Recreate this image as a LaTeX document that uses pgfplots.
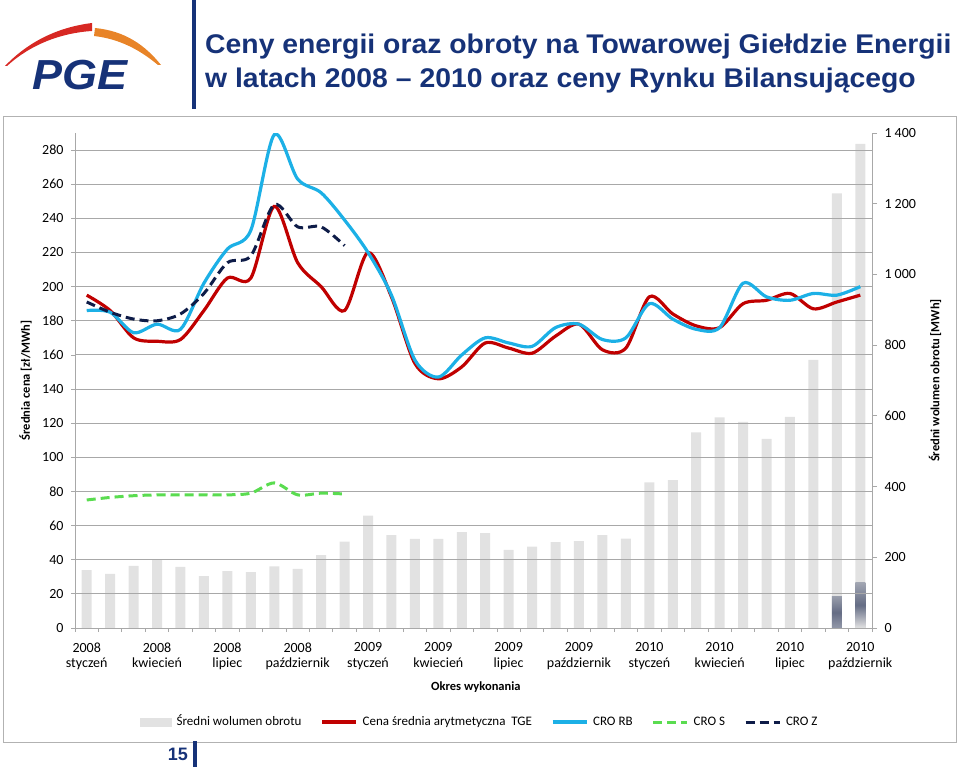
\documentclass[border=0pt]{standalone}
\usepackage{graphicx}
\usepackage{pgfplots}
\pgfplotsset{compat=1.18}
\usepackage{fontspec}
\setmainfont{Carlito}
\newfontfamily\arialfont{Liberation Sans}[Ligatures=TeX]
\definecolor{barcol}{RGB}{226,226,226}
\definecolor{tgered}{RGB}{192,0,0}
\definecolor{crorb}{RGB}{28,176,230}
\definecolor{cros}{RGB}{90,220,80}
\definecolor{croz}{RGB}{14,28,72}
\definecolor{gridcol}{RGB}{168,168,168}
\definecolor{pgenavy}{RGB}{22,50,120}
\definecolor{pgered}{RGB}{215,40,35}
\definecolor{pgeorange}{RGB}{232,132,40}
\definecolor{darkbar}{RGB}{100,108,132}
\begin{document}
\begin{tikzpicture}
\path[use as bounding box] (0pt,0pt) rectangle (960pt,-767pt);
% header
\fill[pgenavy] (192pt,0pt) rectangle (196pt,-109pt);
\node[anchor=base west, inner sep=0pt, text=pgenavy, font=\arialfont\bfseries\fontsize{27}{32}\selectfont] at (205pt,-54pt) {\scalebox{1.05}[1]{Ceny energii oraz obroty na Towarowej Giełdzie Energii}};
\node[anchor=base west, inner sep=0pt, text=pgenavy, font=\arialfont\bfseries\fontsize{27}{32}\selectfont] at (205pt,-88pt) {\scalebox{1.05}[1]{w latach 2008 – 2010 oraz ceny Rynku Bilansującego}};
% logo
\fill[pgered] (5pt,-66pt) .. controls (30pt,-40pt) and (60pt,-27pt) .. (92pt,-23pt) -- (92pt,-31pt) .. controls (60pt,-33pt) and (30pt,-45pt) .. (7pt,-66pt) -- cycle;
\fill[pgeorange] (95pt,-28pt) .. controls (125pt,-31pt) and (145pt,-45pt) .. (161pt,-65pt) -- (158pt,-65pt) .. controls (140pt,-50pt) and (120pt,-39pt) .. (94pt,-36pt) -- cycle;
\node[anchor=base west, inner sep=0pt, text=pgenavy, font=\arialfont\bfseries\itshape\fontsize{42}{44}\selectfont] at (32pt,-90pt) {\scalebox{1.07}[1]{PGE}};
% frame
\draw[gray!60, line width=1pt] (3pt,-117pt) rectangle (956pt,-742pt);
% page number
\node[anchor=base east, inner sep=0pt, text=pgenavy, font=\arialfont\bfseries\fontsize{18}{20}\selectfont] at (188pt,-760pt) {15};
\fill[pgenavy] (193pt,-741pt) rectangle (197pt,-767pt);

% bars (right axis)
\begin{axis}[
  at={(75pt,-628pt)}, anchor=south west,
  width=797pt, height=495pt, scale only axis,
  xmin=-0.5, xmax=33.5, ymin=0, ymax=1400,
  axis y line*=right, axis x line=none,
  ytick={0,200,...,1400},
  tick align=outside, major tick length=5pt,
  y axis line style={draw=gridcol, line width=1pt},
  ytick style={draw=gridcol, line width=0.8pt},
  /pgf/number format/assume math mode=true,
  yticklabel style={font=\fontsize{14}{16}\selectfont, xshift=4pt, /pgf/number format/1000 sep={\hspace{0.22em}}},
  ylabel={Średni wolumen obrotu [MWh]},
  ylabel style={font=\bfseries\fontsize{12.5}{14}\selectfont, at={(axis description cs:1.079,0.5)}, anchor=center},
]
\addplot[ybar, bar width=10pt, bar shift=0pt, draw=none, fill=barcol] coordinates {
(0,164) (1,153) (2,176) (3,195) (4,173) (5,147) (6,161) (7,158) (8,174) (9,167)
(10,206) (11,244) (12,318) (13,263) (14,252) (15,252) (16,271) (17,268) (18,221) (19,230)
(20,243) (21,246) (22,263) (23,253) (24,412) (25,418) (26,553) (27,596) (28,583) (29,535)
(30,597) (31,758) (32,1229) (33,1369)};
\addplot[ybar, bar width=10pt, bar shift=0pt, draw=none, top color=barcol!40!darkbar, bottom color=darkbar!70!white, middle color=darkbar] coordinates {(32,88)};
\addplot[ybar, bar width=10pt, bar shift=0pt, draw=none, top color=barcol!50!darkbar, bottom color=barcol, middle color=darkbar] coordinates {(33,130)};
\end{axis}

% lines (left axis)
\begin{axis}[
  at={(75pt,-628pt)}, anchor=south west,
  width=797pt, height=495pt, scale only axis,
  xmin=-0.5, xmax=33.5, ymin=0, ymax=290,
  axis x line*=bottom, axis y line*=left,
  axis line style={draw=gridcol, line width=1pt},
  ytick={0,20,...,280},
  minor ytick={0,20,...,280},
  ymajorgrids, grid style={draw=gridcol, line width=1pt},
  xtick={0,3,...,33},
  xticklabels={{2008\\styczeń},{2008\\kwiecień},{2008\\lipiec},{2008\\październik},{2009\\styczeń},{2009\\kwiecień},{2009\\lipiec},{2009\\październik},{2010\\styczeń},{2010\\kwiecień},{2010\\lipiec},{2010\\październik}},
  minor xtick={-0.5,0.5,...,33.5},
  tick align=outside, major tick length=0pt, minor tick length=4pt,
  minor tick style={draw=gridcol, line width=0.8pt},
  /pgf/number format/assume math mode=true,
  yticklabel style={font=\fontsize{14}{16}\selectfont, xshift=-8pt},
  xticklabel style={align=center, font=\fontsize{14}{15.5}\selectfont, yshift=-11pt},
  xlabel={Okres wykonania},
  xlabel style={font=\bfseries\fontsize{12.5}{14}\selectfont, at={(axis description cs:0.503,-0.119)}, anchor=center},
  ylabel={Średnia cena [zł/MWh]},
  ylabel style={font=\bfseries\fontsize{12.5}{14}\selectfont, at={(axis description cs:-0.062,0.5)}, anchor=center},
  legend columns=5,
  legend style={draw=none, fill=none, at={(axis description cs:0.508,-0.19)}, anchor=center, font=\fontsize{13}{15}\selectfont, nodes={text height=9pt, text depth=3pt}, /tikz/every even column/.append style={column sep=17pt}, /tikz/every odd column/.append style={column sep=3pt}},
  legend image code/.code={\path[draw=none,fill=none,shade=false] (0pt,-4pt) rectangle (34pt,4pt); \draw[#1] (0pt,0pt) -- (34pt,0pt);},
]
\addlegendimage{legend image code/.code={\fill[barcol] (0pt,-4pt) rectangle (31pt,4pt);}}
\addlegendentry{Średni wolumen obrotu}
\addplot[tgered, line width=3.2pt, smooth] coordinates {
(0,195) (1,186) (2,170) (3,168) (4,169) (5,186) (6,205) (7,205) (8,247) (9,214)
(10,200) (11,186) (12,220) (13,194) (14,155) (15,146) (16,153) (17,167) (18,164) (19,161)
(20,171) (21,178) (22,163) (23,164) (24,194) (25,184) (26,177) (27,176) (28,190) (29,192)
(30,196) (31,187) (32,191) (33,195)};
\addlegendentry{Cena średnia arytmetyczna\ \ TGE}
\addplot[crorb, line width=3.2pt, smooth] coordinates {
(0,186) (1,185) (2,173) (3,178) (4,175) (5,202) (6,222) (7,233) (8,289) (9,263)
(10,255) (11,239) (12,220) (13,195) (14,157) (15,147) (16,160) (17,170) (18,167) (19,165)
(20,176) (21,178) (22,169) (23,170) (24,190) (25,181) (26,175) (27,176) (28,202) (29,194)
(30,192) (31,196) (32,195) (33,200)};
\addlegendentry{CRO RB}
\addplot[cros, line width=3pt, smooth, dash pattern=on 9pt off 5pt] coordinates {
(0,75) (1,76.5) (2,77.5) (3,78) (4,78) (5,78) (6,78) (7,79) (8,85) (9,78) (10,79) (11,78.5)};
\addlegendentry{CRO S}
\addplot[croz, line width=3pt, smooth, dash pattern=on 9pt off 5pt] coordinates {
(0,191) (1,185) (2,181) (3,180) (4,184) (5,196) (6,214) (7,218) (8,248) (9,235) (10,235) (11,224)};
\addlegendentry{CRO Z}
\end{axis}
\end{tikzpicture}
\end{document}
